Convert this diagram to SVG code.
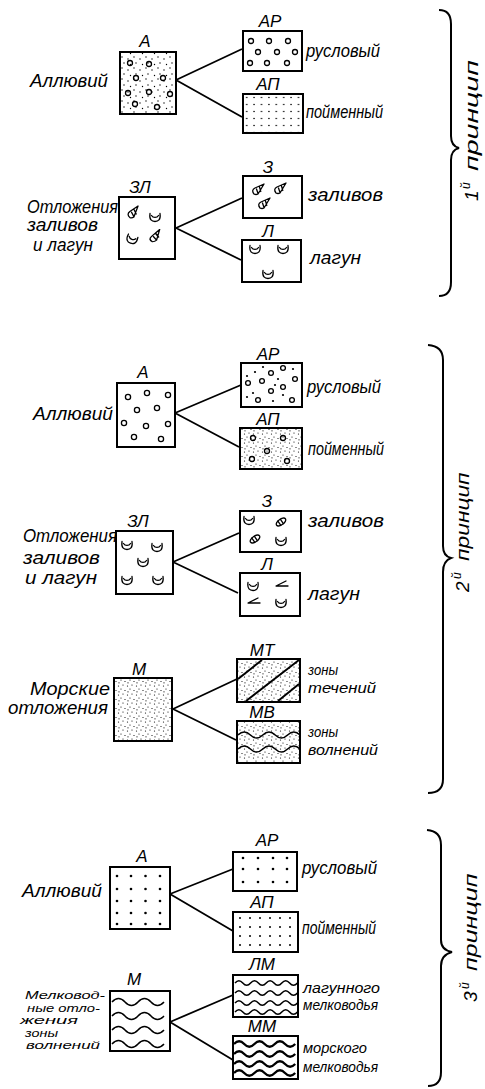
<svg xmlns="http://www.w3.org/2000/svg" width="485" height="1089" viewBox="0 0 485 1089">
<style>
text{font-family:"Liberation Sans","DejaVu Sans",sans-serif;font-style:italic;fill:#000}
.lbl{font-size:17px;text-anchor:middle}
.t{font-size:18px}
.s{font-size:11px}
.sm{font-size:15px}
.br{font-size:19px}
.sup{font-size:12px}
.box{fill:#fff;stroke:#000;stroke-width:2}
.ov{fill:none;stroke:#000;stroke-width:2}
.con{stroke:#000;stroke-width:1.8;fill:none}
.ci{fill:none;stroke:#000;stroke-width:1.3}
.sh{fill:none;stroke:#000;stroke-width:1.3;stroke-linecap:round;stroke-linejoin:round}
.wv{fill:none;stroke:#000;stroke-width:1.5}
.wt{fill:none;stroke:#000;stroke-width:2.3}
.d{fill:#000}
</style>
<defs>
<pattern id="fine" width="9" height="9" patternUnits="userSpaceOnUse">
<circle cx="1.5" cy="2" r="0.6"/><circle cx="6" cy="1" r="0.6"/><circle cx="4" cy="5" r="0.6"/><circle cx="8" cy="6.5" r="0.6"/><circle cx="2" cy="7.8" r="0.6"/>
</pattern>
<pattern id="scat" width="12" height="11" patternUnits="userSpaceOnUse">
<circle cx="2" cy="2" r="0.7"/><circle cx="8" cy="4" r="0.7"/><circle cx="4" cy="8" r="0.7"/><circle cx="10.5" cy="9.5" r="0.7"/>
</pattern>
<pattern id="grid1" x="243" y="94" width="7.4" height="7" patternUnits="userSpaceOnUse">
<circle cx="3.7" cy="3.5" r="0.8"/>
</pattern>
<g id="biv"><path class="sh" d="M-5,-3.5 C-6,3 -3,4.5 0,4.5 C3,4.5 6,3 5,-3.5 M-3.5,-1.5 C-2,1 2,1 3.5,-1.5"/></g>
<g id="cone"><path class="sh" d="M-4,5 Q-7,1 -3,-1 L6,-5 L0,5 Q-2,6 -4,5 Z M-1.5,0 L0,4.5 M1.5,-2 L2.8,2.5"/></g>
<g id="elong"><g transform="rotate(-35)"><ellipse class="sh" cx="0" cy="0" rx="5.5" ry="2.8"/><path class="sh" d="M-2,-2.6 L-2,2.6 M1,-2.7 L1,2.7"/></g></g>
<g id="ang"><path class="sh" d="M5,-4 L-5,1 L7,1"/></g>
</defs>
<rect width="485" height="1089" fill="#fff"/>

<g id="connectors">
<path class="con" d="M176,80 L242,49 M176,80 L242,117"/>
<path class="con" d="M176,228 L242,198 M176,228 L241,260"/>
<path class="con" d="M175,413 L241,385 M175,413 L239,447"/>
<path class="con" d="M173,562 L239,533 M173,562 L238,593"/>
<path class="con" d="M173,709 L237,679 M173,709 L236,740"/>
<path class="con" d="M170,894 L233,869 M170,894 L233,931"/>
<path class="con" d="M170,1022 L233,995 M170,1022 L233,1060"/>
</g>

<!-- Section 1 -->
<g id="A1">
<rect class="box" x="120" y="52" width="56" height="62"/>
<rect x="121" y="53" width="54" height="60" fill="url(#scat)"/>
<g class="ci"><circle cx="130" cy="63" r="2.5"/><circle cx="149" cy="64" r="2.5"/><circle cx="136" cy="78" r="2.5"/><circle cx="163" cy="78" r="2.5"/><circle cx="128" cy="93" r="2.5"/><circle cx="149" cy="92" r="2.5"/><circle cx="170" cy="94" r="2.5"/><circle cx="135" cy="104" r="2.5"/><circle cx="157" cy="107" r="2.5"/></g>
<text class="lbl" x="145" y="47">А</text>
<text class="t" x="30" y="87" textLength="78" lengthAdjust="spacingAndGlyphs">Аллювий</text>
</g>
<g id="AR1">
<rect class="box" x="243" y="31" width="59" height="40"/>
<g class="ci"><circle cx="251" cy="41" r="2.5"/><circle cx="269" cy="41" r="2.5"/><circle cx="288" cy="41" r="2.5"/><circle cx="258" cy="52" r="2.5"/><circle cx="277" cy="52" r="2.5"/><circle cx="295" cy="52" r="2.5"/><circle cx="250" cy="63" r="2.5"/><circle cx="267" cy="63" r="2.5"/><circle cx="287" cy="63" r="2.5"/></g>
<text class="lbl" x="270" y="27">АР</text>
<text class="t" x="306" y="57" textLength="74" lengthAdjust="spacingAndGlyphs">русловый</text>
</g>
<g id="AP1">
<rect class="box" x="243" y="94" width="60" height="39"/>
<rect x="244" y="95" width="58" height="37" fill="url(#grid1)"/>
<text class="lbl" x="268" y="90">АП</text>
<text class="t" x="306" y="118" textLength="77" lengthAdjust="spacingAndGlyphs">пойменный</text>
</g>
<g id="ZL1">
<rect class="box" x="119" y="197" width="56" height="62"/>
<use href="#cone" transform="translate(133,212) rotate(-10)"/>
<use href="#biv" x="155" y="217"/>
<use href="#biv" transform="translate(132,239) rotate(20)"/>
<use href="#cone" transform="translate(155,236) rotate(-20) scale(1.1,0.9)"/>
<text class="lbl" x="140" y="193">ЗЛ</text>
<text class="t" x="27" y="213" textLength="91" lengthAdjust="spacingAndGlyphs">Отложения</text>
<text class="t" x="27" y="231" textLength="71" lengthAdjust="spacingAndGlyphs">заливов</text>
<text class="t" x="33" y="251" textLength="60" lengthAdjust="spacingAndGlyphs">и лагун</text>
</g>
<g id="Z1">
<rect class="box" x="243" y="176" width="59" height="42"/>
<use href="#cone" x="258" y="189"/>
<use href="#cone" x="280" y="188"/>
<use href="#cone" x="264" y="203"/>
<text class="lbl" x="268" y="173">З</text>
<text class="t" x="308" y="201" textLength="75" lengthAdjust="spacingAndGlyphs">заливов</text>
</g>
<g id="L1">
<rect class="box" x="242" y="240" width="59" height="42"/>
<use href="#biv" x="255" y="249"/>
<use href="#biv" x="283" y="249"/>
<use href="#biv" x="268" y="274"/>
<text class="lbl" x="268" y="237">Л</text>
<text class="t" x="310" y="264" textLength="51" lengthAdjust="spacingAndGlyphs">лагун</text>
</g>

<!-- Section 2 -->
<g id="A2">
<rect class="box" x="117" y="383" width="58" height="64"/>
<g class="ci"><circle cx="128" cy="397" r="2.6"/><circle cx="147" cy="393" r="2.6"/><circle cx="168" cy="395" r="2.6"/><circle cx="137" cy="410" r="2.6"/><circle cx="157" cy="408" r="2.6"/><circle cx="124" cy="423" r="2.6"/><circle cx="146" cy="426" r="2.6"/><circle cx="168" cy="424" r="2.6"/><circle cx="134" cy="437" r="2.6"/><circle cx="161" cy="439" r="2.6"/></g>
<text class="lbl" x="143" y="378">А</text>
<text class="t" x="33" y="420" textLength="80" lengthAdjust="spacingAndGlyphs">Аллювий</text>
</g>
<g id="AR2">
<rect class="box" x="241" y="363" width="61" height="44"/>
<g class="ci"><circle cx="271" cy="373" r="2.4"/><circle cx="283" cy="368" r="2.4"/><circle cx="248" cy="383" r="2.4"/><circle cx="262" cy="381" r="2.4"/><circle cx="283" cy="387" r="2.4"/><circle cx="295" cy="379" r="2.4"/><circle cx="271" cy="391" r="2.4"/><circle cx="258" cy="400" r="2.4"/><circle cx="292" cy="400" r="2.4"/></g>
<g class="d"><circle cx="247" cy="376" r="1.1"/><circle cx="255" cy="372" r="1.1"/><circle cx="263" cy="367" r="1.1"/><circle cx="293" cy="369" r="1.1"/><circle cx="275" cy="385" r="1.1"/><circle cx="253" cy="393" r="1.1"/><circle cx="283" cy="395" r="1.1"/><circle cx="273" cy="401" r="1.1"/><circle cx="247" cy="397" r="1.1"/><circle cx="278" cy="379" r="1.1"/></g>
<text class="lbl" x="268" y="360">АР</text>
<text class="t" x="307" y="393" textLength="74" lengthAdjust="spacingAndGlyphs">русловый</text>
</g>
<g id="AP2">
<rect class="box" x="240" y="428" width="62" height="41"/>
<rect x="241" y="429" width="60" height="39" fill="url(#fine)"/>
<g class="ci"><circle cx="253" cy="438" r="2.5"/><circle cx="283" cy="438" r="2.5"/><circle cx="267" cy="451" r="2.5"/><circle cx="252" cy="459" r="2.5"/><circle cx="287" cy="461" r="2.5"/></g>
<text class="lbl" x="268" y="425">АП</text>
<text class="t" x="308" y="455" textLength="76" lengthAdjust="spacingAndGlyphs">пойменный</text>
</g>
<g id="ZL2">
<rect class="box" x="116" y="531" width="57" height="63"/>
<use href="#biv" x="127" y="545"/>
<use href="#biv" x="157" y="547"/>
<use href="#biv" x="143" y="562"/>
<use href="#biv" x="127" y="580"/>
<use href="#biv" x="158" y="580"/>
<text class="lbl" x="138" y="527">ЗЛ</text>
<text class="t" x="23" y="542" textLength="94" lengthAdjust="spacingAndGlyphs">Отложения</text>
<text class="t" x="23" y="564" textLength="77" lengthAdjust="spacingAndGlyphs">заливов</text>
<text class="t" x="25" y="584" textLength="72" lengthAdjust="spacingAndGlyphs">и лагун</text>
</g>
<g id="Z2">
<rect class="box" x="240" y="511" width="61" height="41"/>
<use href="#biv" x="249" y="520"/>
<use href="#elong" x="281" y="522"/>
<use href="#elong" x="255" y="539"/>
<use href="#biv" x="281" y="541"/>
<text class="lbl" x="267" y="507">З</text>
<text class="t" x="308" y="527" textLength="76" lengthAdjust="spacingAndGlyphs">заливов</text>
</g>
<g id="L2">
<rect class="box" x="240" y="573" width="60" height="43"/>
<use href="#biv" x="253" y="586"/>
<use href="#ang" x="281" y="585"/>
<use href="#ang" x="253" y="602"/>
<use href="#biv" x="281" y="603"/>
<text class="lbl" x="267" y="570">Л</text>
<text class="t" x="308" y="600" textLength="52" lengthAdjust="spacingAndGlyphs">лагун</text>
</g>
<g id="M2">
<rect class="box" x="114" y="678" width="58" height="63"/>
<rect x="115" y="679" width="56" height="61" fill="url(#fine)"/>
<text class="lbl" x="139" y="675">М</text>
<text class="t" x="30" y="695" textLength="80" lengthAdjust="spacingAndGlyphs">Морские</text>
<text class="t" x="8" y="714" textLength="100" lengthAdjust="spacingAndGlyphs">отложения</text>
</g>
<g id="MT">
<rect class="box" x="237" y="659" width="63" height="43"/>
<rect x="238" y="660" width="61" height="41" fill="url(#fine)"/>
<path class="ov" stroke-width="1.6" d="M238,679 L262,660 M246,701 L299,660 M278,701 L299,684"/>
<text class="lbl" x="262" y="656">МТ</text>
<text class="sm" x="308" y="675" textLength="30" lengthAdjust="spacingAndGlyphs">зоны</text>
<text class="sm" x="308" y="693" textLength="68" lengthAdjust="spacingAndGlyphs">течений</text>
</g>
<g id="MV">
<rect class="box" x="237" y="721" width="63" height="42"/>
<rect x="238" y="722" width="61" height="40" fill="url(#fine)"/>
<path class="wv" stroke-width="1.8" d="M238,735 q6.2,-6 12.4,0 t12.4,0 t12.4,0 t12.4,0 t12.4,0 M238,749 q6.2,-6 12.4,0 t12.4,0 t12.4,0 t12.4,0 t12.4,0"/>
<text class="lbl" x="262" y="718">МВ</text>
<text class="sm" x="308" y="737" textLength="30" lengthAdjust="spacingAndGlyphs">зоны</text>
<text class="sm" x="308" y="755" textLength="70" lengthAdjust="spacingAndGlyphs">волнений</text>
</g>

<!-- Section 3 -->
<g id="A3">
<rect class="box" x="110" y="867" width="60" height="62"/>
<g class="d">
<circle cx="117" cy="876" r="1.3"/><circle cx="131" cy="876" r="1.3"/><circle cx="145.5" cy="876" r="1.3"/><circle cx="160" cy="876" r="1.3"/>
<circle cx="117" cy="889" r="1.3"/><circle cx="131" cy="889" r="1.3"/><circle cx="145.5" cy="889" r="1.3"/><circle cx="160" cy="889" r="1.3"/>
<circle cx="117" cy="901" r="1.3"/><circle cx="131" cy="901" r="1.3"/><circle cx="145.5" cy="901" r="1.3"/><circle cx="160" cy="901" r="1.3"/>
<circle cx="117" cy="913" r="1.3"/><circle cx="131" cy="913" r="1.3"/><circle cx="145.5" cy="913" r="1.3"/><circle cx="160" cy="913" r="1.3"/>
<circle cx="117" cy="924" r="1.3"/><circle cx="131" cy="924" r="1.3"/><circle cx="145.5" cy="924" r="1.3"/><circle cx="160" cy="924" r="1.3"/>
</g>
<text class="lbl" x="142" y="862">А</text>
<text class="t" x="22" y="897" textLength="80" lengthAdjust="spacingAndGlyphs">Аллювий</text>
</g>
<g id="AR3">
<rect class="box" x="233" y="852" width="64" height="39"/>
<g class="d">
<circle cx="243" cy="858" r="1.3"/><circle cx="258" cy="858" r="1.3"/><circle cx="273" cy="858" r="1.3"/><circle cx="287" cy="858" r="1.3"/>
<circle cx="243" cy="869" r="1.3"/><circle cx="258" cy="869" r="1.3"/><circle cx="273" cy="869" r="1.3"/><circle cx="287" cy="869" r="1.3"/>
<circle cx="243" cy="882" r="1.3"/><circle cx="258" cy="882" r="1.3"/><circle cx="273" cy="882" r="1.3"/><circle cx="287" cy="882" r="1.3"/>
</g>
<text class="lbl" x="267" y="846">АР</text>
<text class="t" x="302" y="874" textLength="75" lengthAdjust="spacingAndGlyphs">русловый</text>
</g>
<g id="AP3">
<rect class="box" x="233" y="912" width="65" height="40"/>
<g class="d">
<circle cx="240" cy="918" r="1"/><circle cx="250" cy="918" r="1"/><circle cx="260" cy="918" r="1"/><circle cx="270" cy="918" r="1"/><circle cx="280" cy="918" r="1"/><circle cx="290" cy="918" r="1"/>
<circle cx="240" cy="927" r="1"/><circle cx="250" cy="927" r="1"/><circle cx="260" cy="927" r="1"/><circle cx="270" cy="927" r="1"/><circle cx="280" cy="927" r="1"/><circle cx="290" cy="927" r="1"/>
<circle cx="240" cy="936" r="1"/><circle cx="250" cy="936" r="1"/><circle cx="260" cy="936" r="1"/><circle cx="270" cy="936" r="1"/><circle cx="280" cy="936" r="1"/><circle cx="290" cy="936" r="1"/>
<circle cx="240" cy="945" r="1"/><circle cx="250" cy="945" r="1"/><circle cx="260" cy="945" r="1"/><circle cx="270" cy="945" r="1"/><circle cx="280" cy="945" r="1"/><circle cx="290" cy="945" r="1"/>
</g>
<text class="lbl" x="262" y="908">АП</text>
<text class="t" x="302" y="934" textLength="74" lengthAdjust="spacingAndGlyphs">пойменный</text>
</g>
<g id="M3">
<rect class="box" x="110" y="991" width="60" height="60"/>
<path class="wv" d="M112,1002 q6.5,-7 13,0 t13,0 t13,0 t13,0 M112,1016 q6.5,-7 13,0 t13,0 t13,0 t13,0 M112,1030 q6.5,-7 13,0 t13,0 t13,0 t13,0 M112,1044 q6.5,-7 13,0 t13,0 t13,0 t13,0"/>
<text class="lbl" x="134" y="985">М</text>
<text class="s" x="25" y="999" textLength="80" lengthAdjust="spacingAndGlyphs">Мелковод-</text>
<text class="s" x="27" y="1011.5" textLength="73" lengthAdjust="spacingAndGlyphs">ные отло-</text>
<text class="s" x="20" y="1024" textLength="58" lengthAdjust="spacingAndGlyphs">жения</text>
<text class="s" x="25" y="1036.5" textLength="33" lengthAdjust="spacingAndGlyphs">зоны</text>
<text class="s" x="26" y="1049" textLength="74" lengthAdjust="spacingAndGlyphs">волнений</text>
</g>
<g id="LM">
<rect class="box" x="233" y="975" width="65" height="42"/>
<path class="wv" stroke-width="1.3" d="M235,983 q3.9,-4.5 7.8,0 t7.8,0 t7.8,0 t7.8,0 t7.8,0 t7.8,0 t7.8,0 t7.8,0 M235,993 q3.9,-4.5 7.8,0 t7.8,0 t7.8,0 t7.8,0 t7.8,0 t7.8,0 t7.8,0 t7.8,0 M235,1003 q3.9,-4.5 7.8,0 t7.8,0 t7.8,0 t7.8,0 t7.8,0 t7.8,0 t7.8,0 t7.8,0 M235,1012 q3.9,-4.5 7.8,0 t7.8,0 t7.8,0 t7.8,0 t7.8,0 t7.8,0 t7.8,0 t7.8,0"/>
<text class="lbl" x="262" y="970">ЛМ</text>
<text class="sm" x="303" y="993" textLength="77" lengthAdjust="spacingAndGlyphs">лагунного</text>
<text class="sm" x="303" y="1010" textLength="75" lengthAdjust="spacingAndGlyphs">мелководья</text>
</g>
<g id="MM">
<rect class="box" x="233" y="1036" width="65" height="43"/>
<path class="wt" d="M234,1044 q5.1,-5.5 10.2,0 t10.2,0 t10.2,0 t10.2,0 t10.2,0 t10.2,0 M234,1054 q5.1,-5.5 10.2,0 t10.2,0 t10.2,0 t10.2,0 t10.2,0 t10.2,0 M234,1064 q5.1,-5.5 10.2,0 t10.2,0 t10.2,0 t10.2,0 t10.2,0 t10.2,0 M234,1073 q5.1,-5.5 10.2,0 t10.2,0 t10.2,0 t10.2,0 t10.2,0 t10.2,0"/>
<text class="lbl" x="262" y="1032">ММ</text>
<text class="sm" x="303" y="1053" textLength="64" lengthAdjust="spacingAndGlyphs">морского</text>
<text class="sm" x="303" y="1072" textLength="75" lengthAdjust="spacingAndGlyphs">мелководья</text>
</g>

<!-- Braces -->
<g id="brace1">
<path class="ov" stroke-width="1.8" d="M439,10 Q451,10 451,24 L451,136 Q451,146 459,148 Q451,150 451,160 L451,282 Q451,296 439,296"/>
<g transform="translate(478,201) rotate(-90)">
<text class="br" x="0" y="0">1</text>
<text class="sup" x="12" y="-8">й</text>
<text class="br" transform="translate(30,0) scale(1.5,1)">принцип</text>
</g>
</g>
<g id="brace2">
<path class="ov" stroke-width="1.8" d="M428,345 Q443,346 443,360 L443,546 Q443,556 451,558 Q443,561 443,572 L443,779 Q443,793 428,793"/>
<g transform="translate(469,592) rotate(-90)">
<text class="br" x="0" y="0">2</text>
<text class="sup" x="13" y="-8">й</text>
<text class="br" transform="translate(31,0) scale(1.2,1)">принцип</text>
</g>
</g>
<g id="brace3">
<path class="ov" stroke-width="1.8" d="M427,830 Q441,831 441,845 L441,940 Q441,950 452,952 Q441,955 441,966 L441,1072 Q441,1086 428,1086"/>
<g transform="translate(477,1002) rotate(-90)">
<text class="br" x="0" y="0">3</text>
<text class="sup" x="13" y="-8">й</text>
<text class="br" transform="translate(31,0) scale(1.32,1)">принцип</text>
</g>
</g>
</svg>
